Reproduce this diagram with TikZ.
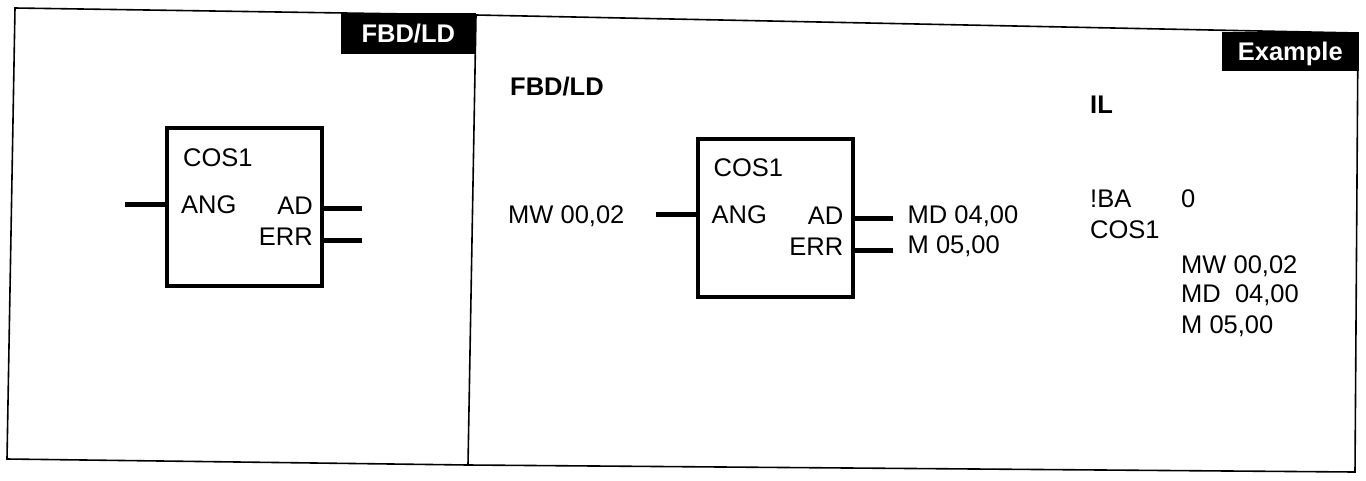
\documentclass[tikz,border=0pt]{standalone}
\usepackage{fontspec}
\setmainfont{Liberation Sans}

\begin{document}
\begin{tikzpicture}[
  x=1pt, y=-1pt,
  txt/.style={inner sep=0pt, font=\fontsize{25.5}{30}\selectfont},
  hd/.style={txt, font=\fontsize{25.5}{30}\selectfont\bfseries},
  tag/.style={fill=black, text=white, inner sep=0pt, minimum height=41pt,
              text height=18pt, text depth=0pt,
              font=\fontsize{25.5}{30}\selectfont\bfseries},
  blk/.style={draw, line width=4pt, minimum width=155pt, minimum height=158pt,
              inner sep=0pt},
  stub/.style={line width=5pt},
  frame/.style={line width=1.6pt, line join=miter}
]
\useasboundingbox (0,0) rectangle (1366,480);

% frame of the two panels
\coordinate (tl) at (15,8);
\coordinate (tm) at (476,15);
\coordinate (tr) at (1358,33);
\coordinate (br) at (1355,472);
\coordinate (bm) at (468,465);
\coordinate (bl) at (7,459);
\draw[frame] (tl) -- (tm) -- (tr) -- (br) -- (bm) -- (bl) -- cycle;
\draw[frame] (tm) -- (bm);

\node[tag, minimum width=135pt, anchor=north east] (tagL) at (476,13) {FBD/LD};
\node[tag, minimum width=137pt, minimum height=39pt, anchor=north east] (tagR) at (1359,32) {Example};

% function blocks
\node[blk] (cosL) at (244.5,207) {};
\node[blk] (cosM) at (775,217.5) {};
\foreach \b in {cosL,cosM} {
  \node[txt, anchor=base west] (\b-name) at ([shift={(18,40)}]\b.north west) {COS1};
  \node[txt, anchor=base west] (\b-ang) at ([shift={(16,87)}]\b.north west) {ANG};
  \node[txt, anchor=base east] (\b-ad) at ([shift={(-11,88)}]\b.north east) {AD};
  \node[txt, anchor=base east] (\b-err) at ([shift={(-11,119)}]\b.north east) {ERR};
  \coordinate (\b-in) at ([shift={(-40,78)}]\b.north west);
  \coordinate (\b-q) at ([shift={(38,82)}]\b.north east);
  \coordinate (\b-e) at ([shift={(38,114)}]\b.north east);
  \draw[stub] (\b-in) -- (\b.west |- \b-in);
  \draw[stub] (\b.east |- \b-q) -- (\b-q);
  \draw[stub] (\b.east |- \b-e) -- (\b-e);
}

% FBD/LD example
\node[hd, anchor=base west] (hdM) at (510,95) {FBD/LD};
\node[txt, anchor=base west] (varIn) at (508,223) {MW 00,02};
\node[txt, anchor=base west] (varAD) at ([shift={(15,5)}]cosM-q) {MD 04,00};
\node[txt, anchor=base west] (varER) at ([shift={(15,3)}]cosM-e) {M 05,00};

% IL example
\node[hd, anchor=base west] (hdR) at (1090,113) {IL};
\node[txt, anchor=base west] (ilBA) at (1090,207) {!BA};
\node[txt, anchor=base west] (ilZero) at (1181,207) {0};
\node[txt, anchor=base west] (ilCos) at (1090,238) {COS1};
\node[txt, anchor=base west] (ilMW) at (1181,273) {MW 00,02};
\node[txt, anchor=base west] (ilMD) at (1181,302) {MD\ \ 04,00};
\node[txt, anchor=base west] (ilM) at (1181,333) {M 05,00};
\end{tikzpicture}
\end{document}
